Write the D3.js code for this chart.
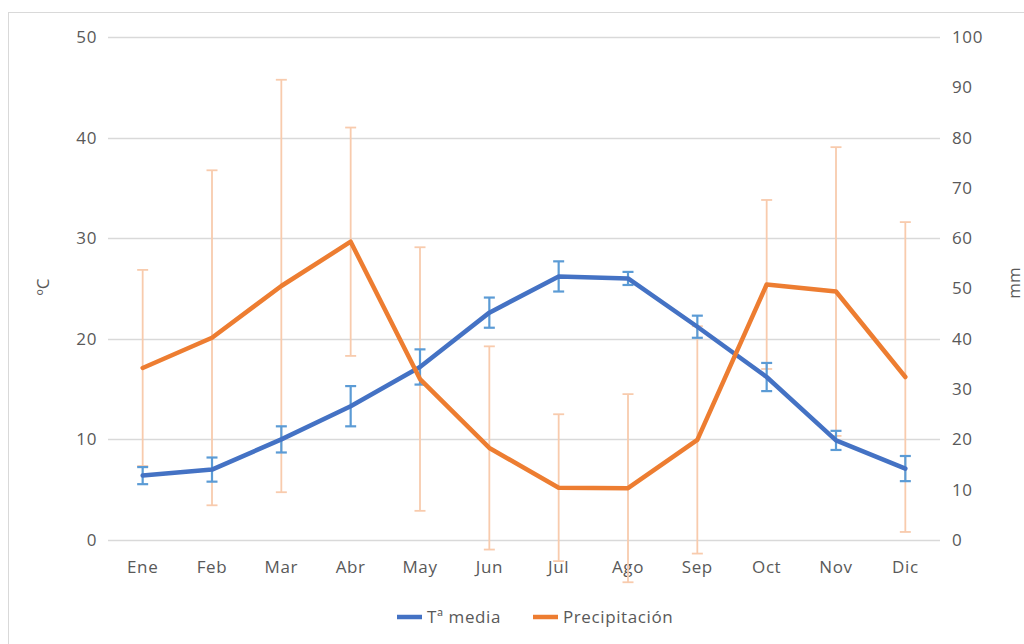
<!DOCTYPE html>
<html><head><meta charset="utf-8">
<script src="https://cdn.jsdelivr.net/npm/d3@7"></script>
<style>
html,body{margin:0;padding:0;background:#fff;}
svg text{font-family:"Open Sans","Noto Sans",sans-serif;fill:#595959;}
</style></head>
<body><svg id="c" width="1024" height="644"></svg>
<script>
const months = ["Ene","Feb","Mar","Abr","May","Jun","Jul","Ago","Sep","Oct","Nov","Dic"];
const tempMean = [6.4, 7.0, 10.0, 13.3, 17.2, 22.6, 26.2, 26.0, 21.2, 16.2, 9.9, 7.1];
const tempErr  = [0.85, 1.2, 1.3, 2.0, 1.75, 1.5, 1.5, 0.65, 1.1, 1.4, 0.95, 1.25];
const precip    = [34.2, 40.2, 50.5, 59.3, 32.0, 18.3, 10.4, 10.3, 19.9, 50.8, 49.4, 32.4];
const precipErr = [19.5, 33.3, 41.0, 22.7, 26.2, 20.2, 14.6, 18.7, 22.6, 16.8, 28.7, 30.8];
const leftTicks = [0,10,20,30,40,50];
const rightTicks = [0,10,20,30,40,50,60,70,80,90,100];
const seriesNames = ["Tª media","Precipitación"];

(function(){
const svg = d3.select("#c");
const blue = "#4472C4", blueErr = "#5B9BD5", orange = "#ED7D31", orangeErr = "#F8CBAD";
const grid = "#D9D9D9";
const FS = 17, LS = "0.6px";

svg.append("rect").attr("x",8.5).attr("y",12.5).attr("width",1030).attr("height",650)
  .attr("fill","none").attr("stroke","#D9D9D9").attr("stroke-width",1);

const pL = 108, pR = 940, pT = 37, pB = 540;
const x = d3.scaleBand().domain(months).range([pL,pR]);
const yL = d3.scaleLinear().domain([0,50]).range([pB,pT]);
const yR = d3.scaleLinear().domain([0,100]).range([pB,pT]);
const cx = m => x(m) + x.bandwidth()/2;

svg.append("g").selectAll("line").data(leftTicks).join("line")
  .attr("x1",pL).attr("x2",pR)
  .attr("y1",d=>Math.round(yL(d))+0.5).attr("y2",d=>Math.round(yL(d))+0.5)
  .attr("stroke",grid).attr("stroke-width",1.3);

const style = sel => sel.selectAll("text").attr("font-size",FS).attr("letter-spacing",LS)
  .style("font-family","'Open Sans','Noto Sans',sans-serif").attr("fill","#595959");

const gl = svg.append("g").attr("transform",`translate(${pL-11},0)`)
  .call(d3.axisLeft(yL).tickValues(leftTicks).tickSize(0).tickPadding(0));
gl.select(".domain").remove(); style(gl);

const gr = svg.append("g").attr("transform",`translate(${pR+12},0)`)
  .call(d3.axisRight(yR).tickValues(rightTicks).tickSize(0).tickPadding(0));
gr.select(".domain").remove(); style(gr);

const gb = svg.append("g").attr("transform",`translate(0,${pB})`)
  .call(d3.axisBottom(x).tickSize(0).tickPadding(21));
gb.select(".domain").remove(); style(gb);

svg.append("text").attr("transform","translate(49,287) rotate(-90)").attr("text-anchor","middle")
  .attr("font-size",17).text("ºC");
svg.append("text").attr("transform","translate(1020,283) rotate(-90)").attr("text-anchor","middle")
  .attr("font-size",17).text("mm");

function errBars(vals, errs, ys, color, w, capW){
  const g = svg.append("g");
  months.forEach((m,i)=>{
    const xx = cx(m), y1 = ys(vals[i]+errs[i]), y2 = ys(vals[i]-errs[i]);
    g.append("line").attr("x1",xx).attr("x2",xx).attr("y1",y1).attr("y2",y2).attr("stroke",color).attr("stroke-width",w);
    [y1,y2].forEach(yy=>g.append("line").attr("x1",xx-capW/2).attr("x2",xx+capW/2).attr("y1",yy).attr("y2",yy).attr("stroke",color).attr("stroke-width",w));
  });
}
errBars(precip, precipErr, yR, orangeErr, 1.8, 11);
errBars(tempMean, tempErr, yL, blueErr, 2.2, 11);

const lineL = d3.line().x((d,i)=>cx(months[i])).y(d=>yL(d));
const lineR = d3.line().x((d,i)=>cx(months[i])).y(d=>yR(d));
svg.append("path").attr("d",lineL(tempMean)).attr("fill","none").attr("stroke",blue).attr("stroke-width",4.5).attr("stroke-linejoin","round").attr("stroke-linecap","round");
svg.append("path").attr("d",lineR(precip)).attr("fill","none").attr("stroke",orange).attr("stroke-width",4.5).attr("stroke-linejoin","round").attr("stroke-linecap","round");

const legend = svg.append("g");
const items = [{name:seriesNames[0],color:blue,x:397},{name:seriesNames[1],color:orange,x:533}];
items.forEach(it=>{
  legend.append("line").attr("x1",it.x).attr("x2",it.x+25).attr("y1",617).attr("y2",617).attr("stroke",it.color).attr("stroke-width",4.5);
  legend.append("text").attr("x",it.x+30).attr("y",623).attr("font-size",FS).attr("letter-spacing",LS).text(it.name);
});
})();
</script></body></html>
